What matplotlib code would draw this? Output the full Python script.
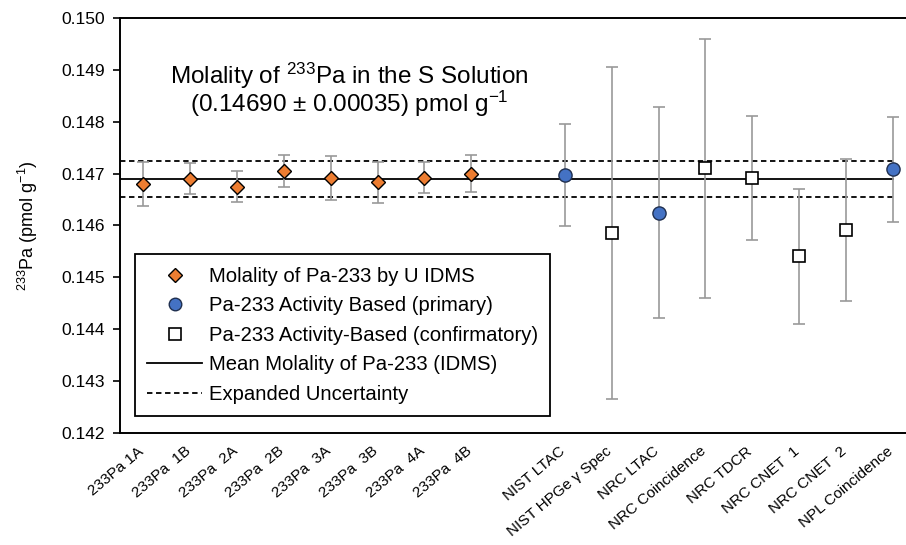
import numpy as np
import matplotlib.pyplot as plt
import matplotlib.transforms as mtransforms

plt.rcParams['font.family'] = ['Liberation Sans', 'DejaVu Sans']
plt.rcParams['mathtext.fontset'] = 'custom'
plt.rcParams['mathtext.rm'] = 'Liberation Sans'
plt.rcParams['mathtext.it'] = 'Liberation Sans:italic'
plt.rcParams['mathtext.default'] = 'rm'

# Kategori paksi-x (indeks 8 dibiarkan kosong sebagai jurang)
labels = ['233Pa 1A', '233Pa  1B', '233Pa  2A', '233Pa  2B',
          '233Pa  3A', '233Pa  3B', '233Pa  4A', '233Pa  4B', '',
          'NIST LTAC', 'NIST HPGe \u03b3 Spec', 'NRC LTAC', 'NRC Coincidence',
          'NRC TDCR', 'NRC CNET  1', 'NRC CNET  2', 'NPL Coincidence']

# IDMS (berlian oren)
idms_x = [0, 1, 2, 3, 4, 5, 6, 7]
idms_y = [0.14680, 0.14690, 0.14675, 0.14705, 0.14691, 0.14683, 0.14692, 0.14700]
idms_err = [0.00043, 0.00030, 0.00030, 0.00031, 0.00042, 0.00040, 0.00030, 0.00035]

# Berasaskan aktiviti (primer, bulatan biru)
prim_x = [9, 11, 16]
prim_y = [0.14697, 0.14625, 0.14708]
prim_err = [0.00098, 0.00204, 0.00101]

# Berasaskan aktiviti (pengesahan, segi empat putih)
conf_x = [10, 12, 13, 14, 15]
conf_y = [0.14586, 0.14710, 0.14692, 0.14541, 0.14591]
conf_err = [0.00320, 0.00250, 0.00120, 0.00130, 0.00137]

mean_val = 0.14690
unc_val = 0.00035
line_x = [-0.5, 16]

fig = plt.figure(figsize=(9.06, 5.45), dpi=100)
ax = fig.add_axes([0.1325, 0.2055, 0.8786, 0.7615])

ax.plot(line_x, [mean_val, mean_val], color='black', lw=1.3,
        label='Mean Molality of Pa-233 (IDMS)', zorder=2)
ax.plot(line_x, [mean_val + unc_val] * 2, color='black', lw=1.3, ls=(0, (3, 2)),
        label='Expanded Uncertainty', zorder=2)
ax.plot(line_x, [mean_val - unc_val] * 2, color='black', lw=1.3, ls=(0, (3, 2)), zorder=2)

eb = dict(fmt='none', ecolor='#999999', elinewidth=1.2, capsize=4, capthick=1.2, zorder=3)
ax.errorbar(idms_x, idms_y, yerr=idms_err, **eb)
ax.errorbar(prim_x, prim_y, yerr=prim_err, **eb)
ax.errorbar(conf_x, conf_y, yerr=conf_err, **eb)

ax.plot(idms_x, idms_y, 'D', ms=7, mfc='#ED7D31', mec='black', mew=1,
        ls='none', zorder=4, label='Molality of Pa-233 by U IDMS')
ax.plot(prim_x, prim_y, 'o', ms=9.5, mfc='#4472C4', mec='#1F2F4F', mew=1,
        ls='none', zorder=4, label='Pa-233 Activity Based (primary)')
ax.plot(conf_x, conf_y, 's', ms=9, mfc='white', mec='black', mew=1.2,
        ls='none', zorder=4, label='Pa-233 Activity-Based (confirmatory)')

ax.set_xlim(-0.5, 16.5)
ax.set_ylim(0.142, 0.150)
ax.set_yticks(np.arange(0.142, 0.1505, 0.001))
ax.yaxis.set_major_formatter(plt.FormatStrFormatter('%.3f'))
ax.tick_params(axis='y', labelsize=12.5, length=5, width=1.2, pad=6)
ax.set_xticks(range(len(labels)))
ax.set_xticklabels(labels, rotation=40, ha='right', rotation_mode='anchor', fontsize=11)
ax.tick_params(axis='x', length=0, pad=8)
shift = mtransforms.ScaledTranslation(-6 / 100, 0, fig.dpi_scale_trans)
for lab in ax.get_xticklabels():
    lab.set_transform(lab.get_transform() + shift)
ax.set_ylabel('$^{233}$Pa (pmol g$^{-1}$)', fontsize=13, labelpad=15)

for s in ['left', 'bottom', 'top']:
    ax.spines[s].set_linewidth(1.4)
ax.spines['right'].set_visible(False)

ax.text(4.4, 0.14888, 'Molality of $^{233}$Pa in the S Solution', ha='center',
        va='center', fontsize=17.5)
ax.text(4.4, 0.14834, '(0.14690 \u00b1 0.00035) pmol g$^{-1}$', ha='center',
        va='center', fontsize=17.5)

handles, lbls = ax.get_legend_handles_labels()
order = [2, 3, 4, 0, 1]
leg = ax.legend([handles[i] for i in order], [lbls[i] for i in order],
                loc='lower left', bbox_to_anchor=(0.019, 0.041), fontsize=14.6,
                frameon=True, fancybox=False, edgecolor='black', framealpha=1,
                handlelength=2.7, markerscale=0.95, borderpad=0.6, labelspacing=0.52,
                handletextpad=0.35, borderaxespad=0)
leg.get_frame().set_linewidth(1.3)

fig.savefig('out.png', dpi=100)
